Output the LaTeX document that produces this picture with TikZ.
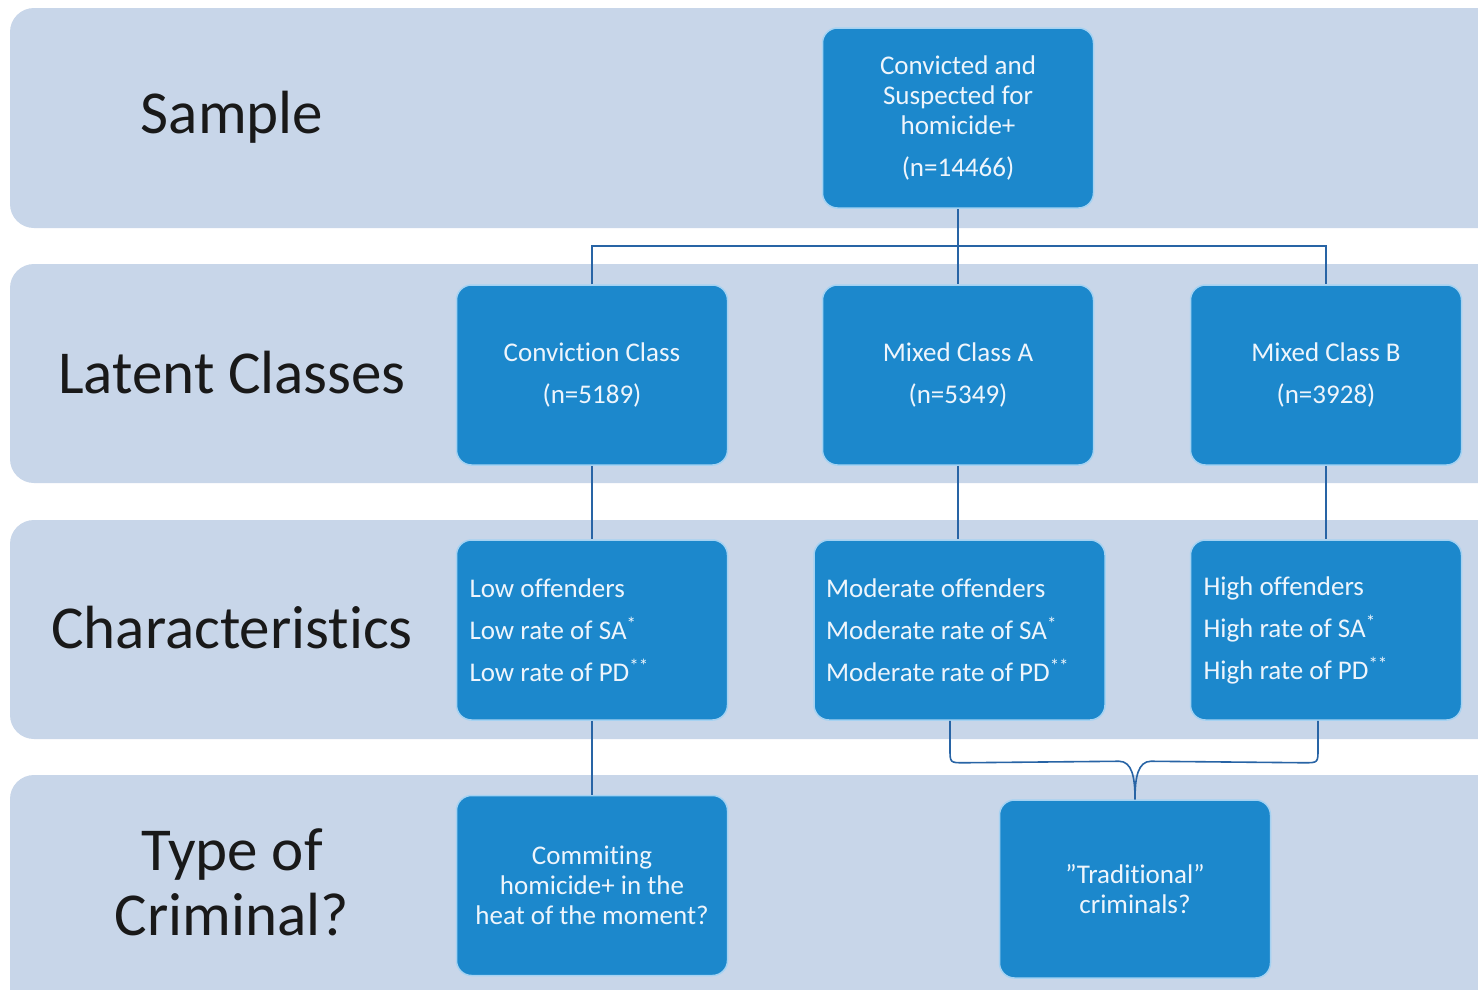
\documentclass[tikz,border=0pt]{standalone}
\usepackage{fontspec}
\setmainfont{Carlito}[Ligatures=NoCommon]
\usetikzlibrary{calc}

\definecolor{bandblue}{RGB}{200,214,233}
\definecolor{boxblue}{RGB}{28,136,204}
\definecolor{boxrim}{RGB}{165,210,242}
\definecolor{linkblue}{RGB}{40,100,165}
\definecolor{txtwhite}{RGB}{238,245,252}

\begin{document}
\begin{tikzpicture}[x=1pt, y=-1pt,
		band/.style={fill=bandblue, rounded corners=24pt},
		stage/.style={font=\fontsize{61}{65}\selectfont, align=center, text=black!90},
		box/.style={fill=boxblue, draw=boxrim, line width=1.5pt, rounded corners=15pt,
			minimum width=271pt, minimum height=180pt, inner sep=0pt,
			text=txtwhite, font=\fontsize{27}{30}\selectfont, align=center},
		chars/.style={box, text width=245pt, inner xsep=13pt, align=flush left},
		link/.style={draw=linkblue, line width=1.6pt}]
		\clip (0,0) rectangle (1478,989);
		\fill[white] (0,0) rectangle (1478,989);

		% rows
		\fill[band] (10,8) rectangle (1520,228);
		\fill[band] (10,264) rectangle (1520,483);
		\fill[band] (10,520) rectangle (1520,739);
		\fill[band] (10,775) rectangle (1520,1030);

		\node[stage] (lsample) at (232,117) {Sample};
		\node[stage] (llatent) at (232,373) {Latent Classes};
		\node[stage] (lchar) at (232,628) {Characteristics};
		\node[stage] (ltype) at (232,882) {Type of\\Criminal?};

		% boxes
		\coordinate (split) at (958,246);
		\node[box] (sample) at (958,118) {Convicted and\\Suspected for\\homicide+\\[12pt](n=14466)};
		\node[box] (conv) at (592,375) {Conviction Class\\[12pt](n=5189)};
		\node[box] (mixa) at (958,375) {Mixed Class A\\[12pt](n=5349)};
		\node[box] (mixb) at (1326,375) {Mixed Class B\\[12pt](n=3928)};
		\node[chars] (low) at (592,630) {Low offenders\\[12pt]Low rate of SA\textsuperscript{*}\\[12pt]Low rate of PD\textsuperscript{**}};
		\node[chars, minimum width=291pt, text width=267pt, inner xsep=12pt] (mod) at (959.5,630) {Moderate offenders\\[12pt]Moderate rate of SA\textsuperscript{*}\\[12pt]Moderate rate of PD\textsuperscript{**}};
		\node[chars] (high) at (1326,630) {High offenders\\[12pt]High rate of SA\textsuperscript{*}\\[12pt]High rate of PD\textsuperscript{**}};
		\node[box] (heat) at (592,885.5) {Commiting\\homicide+ in the\\heat of the moment?};
		\node[box, minimum height=178pt] (trad) at (1135,889) {”Traditional”\\criminals?};

		\draw[link] (sample.south) -- (mixa.north);
		\draw[link] (conv.north) |- (split) -| (mixb.north);
		\draw[link] (conv.south) -- (low.north);
		\draw[link] (mixa.south) -- (mixa.south |- mod.north);
		\draw[link] (mixb.south) -- (high.north);
		\draw[link] (conv.south |- low.south) -- (heat.north);

		% brace from the two right boxes
		\coordinate (bl) at ([xshift=-9.5pt]mod.south);
		\coordinate (br) at ([xshift=-8pt]high.south);
		\draw[link] (bl) -- ++(0,28) .. controls +(0,14) .. ++(14,14) -- ($(trad.north)+(-16,-38)$)
			.. controls +(13,0) and +(0,-22) .. (trad.north);
		\draw[link] (br) -- ++(0,28) .. controls +(0,14) .. ++(-14,14) -- ($(trad.north)+(16,-38)$)
			.. controls +(-13,0) and +(0,-22) .. (trad.north);
	\end{tikzpicture}
\end{document}
